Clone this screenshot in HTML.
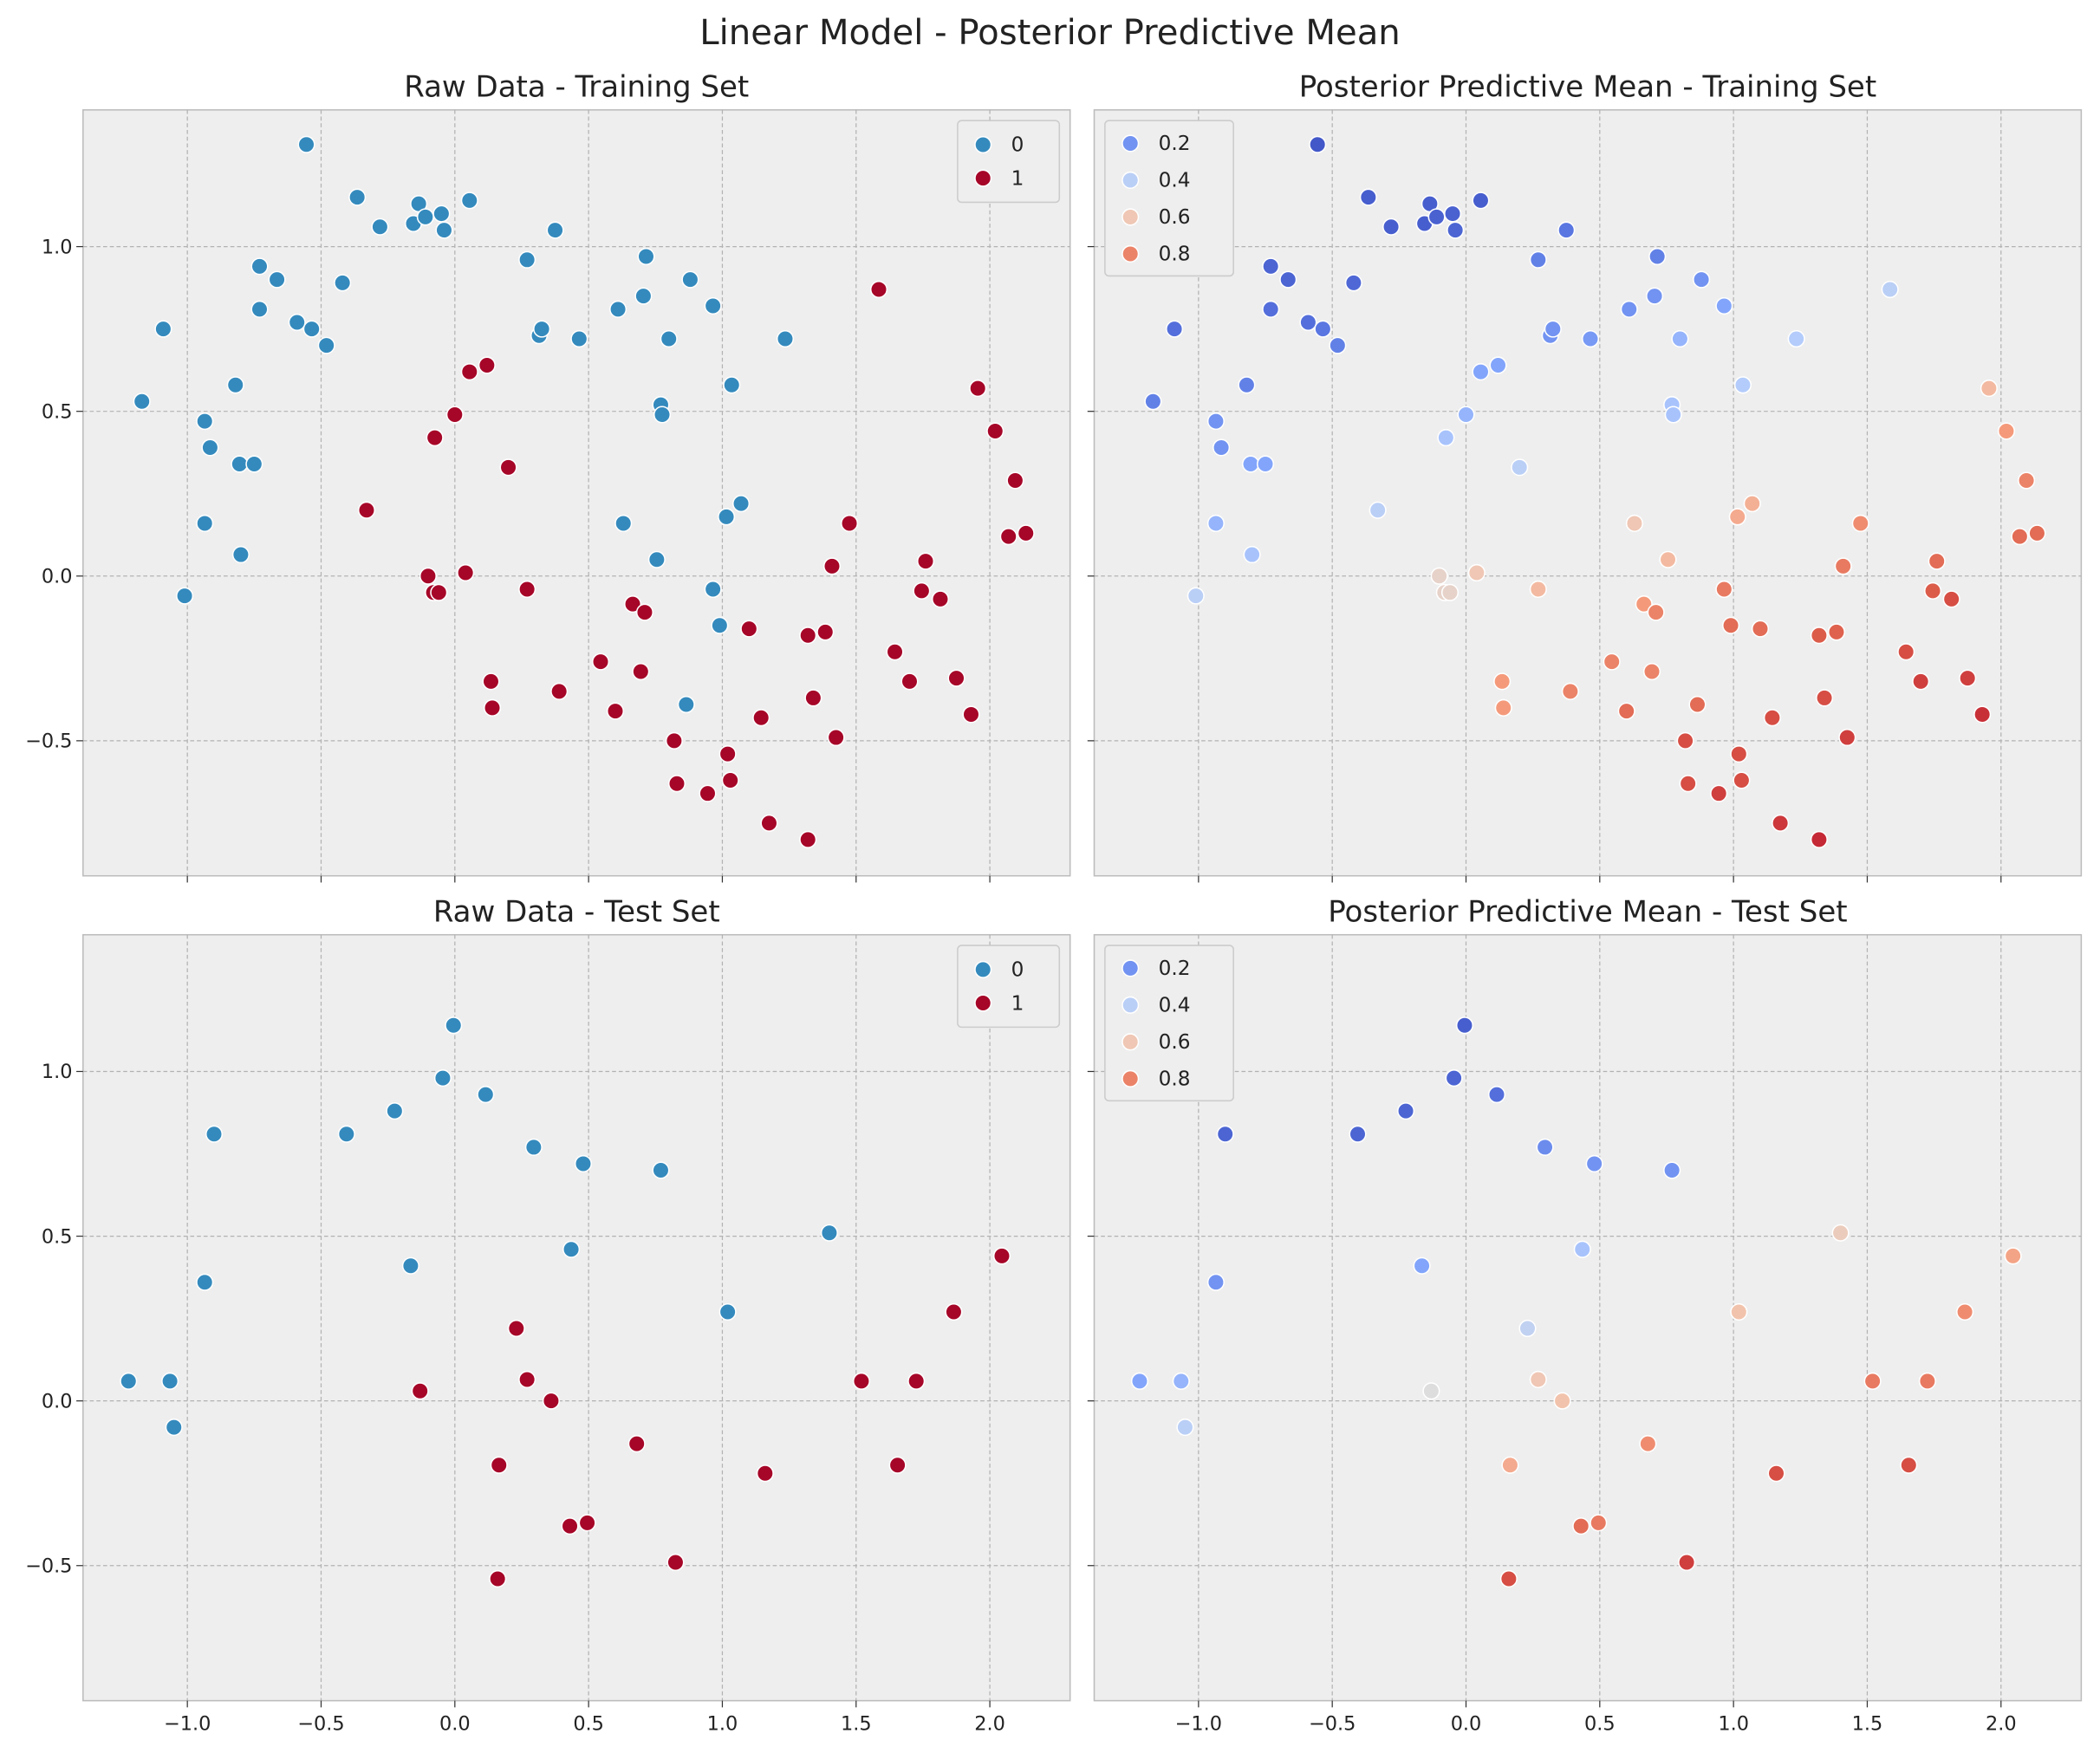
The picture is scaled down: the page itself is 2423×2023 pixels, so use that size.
<!DOCTYPE html>
<html><head><meta charset="utf-8"><style>
html,body{margin:0;padding:0;background:#fff;}
svg{display:block;font-family:"DejaVu Sans","Liberation Sans",sans-serif;}
</style></head><body>
<svg id="fig" width="2423" height="2023" viewBox="0 0 1568 1309" xmlns="http://www.w3.org/2000/svg">
<rect width="1568" height="1309" fill="#fff"/>
<text x="784" y="33" font-size="26" text-anchor="middle" fill="#222">Linear Model - Posterior Predictive Mean</text>
</svg>
<script>
// ---- data ----
const trainX0=[-1.17,-1.09,-1.01,-0.935,-0.935,-0.915,-0.82,-0.805,-0.80,-0.75,-0.73,-0.73,-0.665,-0.59,-0.555,-0.535,-0.48,-0.42,-0.365,-0.28,-0.155,-0.135,-0.11,-0.05,-0.04,0.055,0.27,0.315,0.325,0.375,0.465,0.61,0.63,0.705,0.715,0.755,0.77,0.775,0.80,0.865,0.88,0.965,0.965,0.99,1.015,1.035,1.07,1.235];
const trainY0=[0.53,0.75,-0.06,0.47,0.16,0.39,0.58,0.34,0.065,0.34,0.94,0.81,0.90,0.77,1.31,0.75,0.70,0.89,1.15,1.06,1.07,1.13,1.09,1.10,1.05,1.14,0.96,0.73,0.75,1.05,0.72,0.81,0.16,0.85,0.97,0.05,0.52,0.49,0.72,-0.39,0.90,0.82,-0.04,-0.15,0.18,0.58,0.22,0.72];
const trainP0=[0.15,0.1,0.4,0.2,0.3,0.2,0.15,0.25,0.35,0.25,0.07,0.1,0.07,0.1,0.03,0.12,0.15,0.08,0.05,0.05,0.05,0.05,0.06,0.06,0.07,0.05,0.15,0.2,0.2,0.12,0.22,0.2,0.6,0.2,0.15,0.65,0.35,0.35,0.3,0.85,0.2,0.25,0.82,0.85,0.7,0.38,0.68,0.38];
const trainX1=[-0.33,-0.10,-0.08,-0.06,-0.075,0.00,0.04,0.055,0.12,0.135,0.14,0.20,0.27,0.39,0.545,0.60,0.665,0.695,0.71,0.82,0.83,0.945,1.02,1.03,1.10,1.145,1.175,1.32,1.34,1.385,1.32,1.41,1.425,1.475,1.585,1.645,1.70,1.745,1.76,1.815,1.875,1.93,1.955,2.02,2.07,2.095,2.135];
const trainY1=[0.20,0.00,-0.05,-0.05,0.42,0.49,0.01,0.62,0.64,-0.32,-0.40,0.33,-0.04,-0.35,-0.26,-0.41,-0.085,-0.29,-0.11,-0.50,-0.63,-0.66,-0.54,-0.62,-0.16,-0.43,-0.75,-0.18,-0.37,-0.17,-0.80,0.03,-0.49,0.16,0.87,-0.23,-0.32,-0.045,0.045,-0.07,-0.31,-0.42,0.57,0.44,0.12,0.29,0.13];
const trainP1=[0.4,0.55,0.55,0.55,0.35,0.3,0.6,0.25,0.25,0.75,0.75,0.4,0.65,0.8,0.8,0.85,0.75,0.8,0.8,0.9,0.9,0.92,0.9,0.9,0.85,0.9,0.93,0.88,0.9,0.87,0.95,0.82,0.92,0.78,0.4,0.9,0.92,0.88,0.85,0.9,0.92,0.94,0.65,0.75,0.85,0.8,0.85];
const testX0=[-1.22,-1.065,-1.05,-0.935,-0.90,-0.405,-0.225,-0.165,-0.045,-0.005,0.115,0.295,0.435,0.48,0.77,1.02,1.40];
const testY0=[0.06,0.06,-0.08,0.36,0.81,0.81,0.88,0.41,0.98,1.14,0.93,0.77,0.46,0.72,0.70,0.27,0.51];
const testP0=[0.25,0.3,0.4,0.2,0.07,0.07,0.07,0.25,0.07,0.05,0.1,0.18,0.35,0.2,0.2,0.62,0.58];
const testX1=[-0.13,0.23,0.165,0.16,0.27,0.36,0.43,0.495,0.68,0.825,1.16,1.52,1.655,1.725,1.865,2.045];
const testY1=[0.03,0.22,-0.195,-0.54,0.065,0.00,-0.38,-0.37,-0.13,-0.49,-0.22,0.06,-0.195,0.06,0.27,0.44];
const testP1=[0.5,0.42,0.7,0.9,0.6,0.62,0.85,0.82,0.78,0.92,0.9,0.82,0.9,0.82,0.78,0.72];
const xTicks=[-1.0,-0.5,0.0,0.5,1.0,1.5,2.0];
const xTickLabels=["\u22121.0","\u22120.5","0.0","0.5","1.0","1.5","2.0"];
const yTicks=[-0.5,0.0,0.5,1.0];
const yTickLabels=["\u22120.5","0.0","0.5","1.0"];
const legendProbs=[0.2,0.4,0.6,0.8];

const NS="http://www.w3.org/2000/svg";
const svg=document.getElementById('fig');
const XMIN=-1.39,XMAX=2.30,YMIN=-0.91,YMAX=1.415;
function mk(tag,attrs,parent){const e=document.createElementNS(NS,tag);for(const k in attrs)e.setAttribute(k,attrs[k]);(parent||svg).appendChild(e);return e;}
const stops=[[0,[59,76,192]],[0.125,[90,120,226]],[0.25,[130,165,251]],[0.375,[177,203,252]],[0.5,[221,221,221]],[0.625,[243,194,170]],[0.75,[244,154,123]],[0.875,[222,96,76]],[1,[180,4,38]]];
function cw(p){p=Math.max(0,Math.min(1,p));for(let i=0;i<stops.length-1;i++){const[a,ca]=stops[i],[b,cb]=stops[i+1];if(p<=b){const t=(p-a)/(b-a);return 'rgb('+ca.map((v,j)=>Math.round(v+(cb[j]-v)*t)).join(',')+')';}}return 'rgb(180,4,38)';}

function panel(name,L,T,W,H,title,showY,showX){
  const g=mk('g',{});  
  const sx=v=>L+(v-XMIN)/(XMAX-XMIN)*W, sy=v=>T+(YMAX-v)/(YMAX-YMIN)*H;
  const bg=mk('rect',{x:L,y:T,width:W,height:H,fill:'#eeeeee',stroke:'#bcbcbc','stroke-width':1},g);
   
  xTicks.forEach((v,i)=>{const x=sx(v);
    const gl=mk('line',{x1:x,x2:x,y1:T,y2:T+H,stroke:'#b2b2b2','stroke-width':0.8,'stroke-dasharray':'3,2'},g);
     
    mk('line',{x1:x,x2:x,y1:T+H,y2:T+H+5,stroke:'#333','stroke-width':0.8},g);
    if(showX){const t=mk('text',{x:x,y:T+H+22,'font-size':14.5,'text-anchor':'middle',fill:'#222'},g);t.textContent=xTickLabels[i];
       }
  });
  yTicks.forEach((v,i)=>{const y=sy(v);
    const gl=mk('line',{x1:L,x2:L+W,y1:y,y2:y,stroke:'#b2b2b2','stroke-width':0.8,'stroke-dasharray':'3,2'},g);
     
    mk('line',{x1:L-5,x2:L,y1:y,y2:y,stroke:'#333','stroke-width':0.8},g);
    if(showY){const t=mk('text',{x:L-8,y:y+5,'font-size':14.5,'text-anchor':'end',fill:'#222'},g);t.textContent=yTickLabels[i];
       }
  });
  const tt=mk('text',{x:L+W/2,y:T-10,'font-size':22,'text-anchor':'middle',fill:'#222'},g);tt.textContent=title;
   
  return {g,sx,sy,L,T,W,H};
}
function pts(p,xs,ys,colorFn){xs.forEach((x,i)=>{const c=mk('circle',{cx:p.sx(x),cy:p.sy(ys[i]),r:6,fill:colorFn(i),stroke:'#fff','stroke-width':1},p.g);
   });}
function classLegend(p){const lx=p.L+p.W-84,ly=p.T+8;
  const g=mk('g',{},p.g);  
  mk('rect',{x:lx,y:ly,width:76,height:61,fill:'#eeeeee',stroke:'#ccc',rx:3},g);
  [['0','#348ABD'],['1','#A60628']].forEach((e,i)=>{const yy=ly+18+i*25;
    mk('circle',{cx:lx+19,cy:yy,r:6,fill:e[1],stroke:'#fff'},g);
    const t=mk('text',{x:lx+40,y:yy+5,'font-size':15,fill:'#222'},g);t.textContent=e[0];
     });}
function probLegend(p){const lx=p.L+8,ly=p.T+8;
  const g=mk('g',{},p.g);  
  mk('rect',{x:lx,y:ly,width:96,height:116,fill:'#eeeeee',stroke:'#ccc',rx:3},g);
  legendProbs.forEach((v,i)=>{const yy=ly+17+i*27.5;
    mk('circle',{cx:lx+19,cy:yy,r:6,fill:cw(v),stroke:'#fff'},g);
    const t=mk('text',{x:lx+40,y:yy+5,'font-size':15,fill:'#222'},g);t.textContent=v.toFixed(1);
     });}

const W=737,H=572;
const p1=panel('raw-train-panel',62,82,W,H,'Raw Data - Training Set',true,false);
const p2=panel('ppm-train-panel',817,82,W,H,'Posterior Predictive Mean - Training Set',false,false);
const p3=panel('raw-test-panel',62,698,W,H,'Raw Data - Test Set',true,true);
const p4=panel('ppm-test-panel',817,698,W,H,'Posterior Predictive Mean - Test Set',false,true);
pts(p1,trainX0,trainY0,()=>'#348ABD');pts(p1,trainX1,trainY1,()=>'#A60628');
pts(p2,trainX0,trainY0,i=>cw(trainP0[i]));pts(p2,trainX1,trainY1,i=>cw(trainP1[i]));
pts(p3,testX0,testY0,()=>'#348ABD');pts(p3,testX1,testY1,()=>'#A60628');
pts(p4,testX0,testY0,i=>cw(testP0[i]));pts(p4,testX1,testY1,i=>cw(testP1[i]));
classLegend(p1);classLegend(p3);probLegend(p2);probLegend(p4);
</script>
</body></html>
